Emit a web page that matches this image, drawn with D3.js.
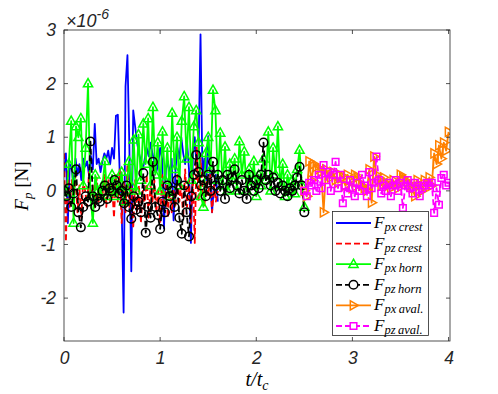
<!DOCTYPE html>
<html>
<head>
<meta charset="utf-8">
<script src="https://cdn.jsdelivr.net/npm/d3@7"></script>
<style>
  body { margin: 0; background: #fff; }
  svg { display: block; }
  .tick text { font-family: "Liberation Sans", Arial, sans-serif; font-style: italic; font-size: 17.5px; fill: #262626; }
  .math { font-family: "Liberation Serif", "Times New Roman", serif; font-style: italic; fill: #000; }
</style>
</head>
<body>
<div id="chart"></div>
<script>
// time sampling of each run (t/t_c)
var crestStart = 0, crestStep = 0.02;
var hornStart = 0, hornStep = 0.025;
var avalStart = 2.5, avalStep = 0.025;

// forces, units of 1e-6 N
var pxCrest = [0.3, 0.7, -0.6, 0.5, 0.4, 0.1, 0.6, 0.3, 0.5, 0.2, 0.6, 0.45, 0.55, 0.3, 0.65, 0.4, 1.25, 0.5, 0.6, 0.35,
  0.55, 0.7, 0.6, 0.75, 0.5, 0.8, 0.6, 1.4, 1.42, 0.3, -0.3, -2.27, 1.95, 2.53, 0.8, -1.5, 1.5, 1.2, 0.9, 0.7,
  0.55, 0.4, 0.6, 0.8, 0.65, 0.9, 0.7, 0.55, 0.35, 0.5, 0.8, 0.6, -0.7, 0.4, 0.55, 0.3, 0.6, -0.55, 0.4, 0.8,
  0.6, 1.0, 0.7, 0.5, 0.9, 0.4, -0.97, 0.6, 1.0, 0.5, 0.8, 2.92, 0.3, 0.6, 0.2, 1.02, 0.3, -0.4, 0.1, 0.3, -0.2];
var pzCrest = [0.7, -0.95, 0.4, -0.3, 0.2, -0.2, 0.3, -0.4, 0.1, -0.5, 0.2, 0.0, -0.3, 0.35, -0.1, 0.1, -0.35, 0.25, -0.2, 0.1,
  -0.1, 0.3, -0.3, 0.2, -0.2, 0.1, -0.5, 0.3, -0.2, 0.4, -0.6, 0.2, -0.4, 0.5, -0.3, 0.1, -0.7, 0.2, -0.4, 0.1,
  -0.6, 0.0, -0.3, 0.3, -0.5, 0.1, -0.2, 0.2, -0.4, 0.0, -0.6, 0.3, -0.3, 0.1, -0.5, 0.2, -0.4, 0.0, -0.3, 0.3,
  -0.2, 0.1, -0.5, 0.4, -0.3, 0.2, -0.6, 0.3, -0.97, 0.82, -0.2, 0.6, 0.1, -0.3, 0.2, -0.1, 0.3, -0.4, 0.1, -0.2, 0.0];
var pxHorn = [0.0, -0.1, 0.5, 1.3, -0.6, 1.2, 1.0, 1.35, 0.1, 0.8, 2.0, -0.1, -0.6, 0.3, 0.0, -0.1, 0.1, 0.55, -0.1, 0.0,
  0.3, -0.1, 0.1, 0.0, 0.35, -0.2, 0.0, 0.55, 0.1, 0.95, 0.0, 1.05, 0.2, 1.25, 0.5, 1.35, 0.1, 1.56, 0.3, 0.9,
  0.0, 1.1, 0.2, 0.8, -0.1, 1.45, 0.4, 1.0, 0.1, 1.3, 1.76, 0.6, 1.56, 0.2, 1.2, 1.5, 0.9, -0.1, -0.3, 0.7,
  1.0, 0.4, 1.88, 1.5, 0.2, 1.08, 0.1, 0.82, 0.0, 0.5, 0.2, 0.6, 0.0, 0.92, 0.3, 0.73, 0.0, 0.4, 0.1, 0.55,
  -0.1, 0.3, 0.1, 0.6, 0.2, 1.1, 0.0, 0.8, 0.3, 1.2, 0.1, 0.5, -0.1, 0.3, 0.0, 0.2, -0.05, 0.4, 0.76, 0.1, -0.3];
var pzHorn = [0.0, -0.1, 0.05, -0.3, -0.05, 0.4, -0.4, -0.68, -0.3, -0.1, -0.2, 0.92, -0.1, -0.3, -0.15, -0.2, 0.0, 0.1, -0.15, 0.05,
  0.0, 0.2, 0.1, -0.05, 0.0, -0.23, 0.1, -0.3, -0.52, -0.1, -0.35, -0.2, -0.4, 0.33, -0.78, -0.3, -0.5, 0.54, -0.3, -0.45,
  -0.71, -0.2, -0.4, 0.1, -0.1, 0.0, -0.3, 0.2, -0.5, -0.8, 0.1, -0.4, -0.85, -0.1, 0.3, 0.67, 0.35, 0.1, 0.2, -0.1,
  0.3, 0.0, 0.54, 0.1, 0.3, 0.0, 0.2, -0.15, 0.3, 0.05, 0.25, 0.4, 0.1, -0.05, 0.2, 0.0, -0.15, 0.3, 0.1, 0.0,
  0.2, 0.05, 0.3, 0.9, 0.2, 0.3, 0.1, 0.25, 0.0, 0.15, -0.05, 0.1, 0.0, -0.1, 0.05, 0.0, 0.1, 0.25, 0.45, 0.1, -0.4];
var pxAval = [0.0, -0.1, 0.55, 0.2, 0.5, 0.45, 0.4, 0.35, -0.4, 0.4, 0.3, 0.25, 0.35, 0.2, 0.15, 0.3, 0.25, 0.1, 0.3, 0.2,
  0.05, 0.3, 0.25, 0.15, 0.1, 0.05, 0.0, 0.4, -0.22, 0.64, 0.3, 0.2, 0.1, 0.25, 0.15, 0.1, 0.05, 0.2, 0.1, 0.05,
  0.3, 0.25, 0.2, 0.15, 0.1, 0.05, -0.1, 0.2, 0.1, 0.0, 0.2, 0.1, 0.25, 0.1, 0.7, 0.5, 0.85, 0.6, 0.9, 0.75, 1.1];
var pzAval = [0.0, -0.1, 0.15, 0.1, 0.2, 0.0, 0.3, 0.05, 0.48, 0.2, 0.35, 0.0, 0.3, 0.54, 0.05, 0.3, -0.23, 0.1, -0.05, 0.2,
  0.05, -0.1, 0.15, 0.0, 0.3, 0.1, -0.1, 0.35, 0.05, 0.15, 0.64, 0.2, -0.05, 0.1, 0.0, 0.15, -0.1, 0.1, 0.2, 0.0,
  0.15, -0.32, 0.1, 0.2, 0.05, -0.05, 0.15, 0.1, -0.1, 0.05, 0.1, 0.15, 0.1, 0.15, -0.41, 0.05, -0.26, 0.24, 0.3, 0.1, 0.15];

var xTicks = [0, 1, 2, 3, 4];
var yTicks = [-2, -1, 0, 1, 2, 3];

var width = 498, height = 394;
var margin = {left: 64, top: 30, right: 48, bottom: 53};

var svg = d3.select("#chart").append("svg").attr("width", width).attr("height", height);

var x = d3.scaleLinear().domain([0, 4.015]).range([margin.left, width - margin.right]);
var y = d3.scaleLinear().domain([-2.8, 3]).range([height - margin.bottom, margin.top]);

var plot = svg.append("g");
plot.append("defs").append("clipPath").attr("id", "clip").append("rect")
  .attr("x", margin.left).attr("y", margin.top)
  .attr("width", x.range()[1] - margin.left).attr("height", y.range()[0] - margin.top);

var series = [
  {vals: pxCrest, t0: crestStart, dt: crestStep, color: "#0000ff", dash: null, marker: null, label: "px\u2009crest"},
  {vals: pzCrest, t0: crestStart, dt: crestStep, color: "#ff0000", dash: "6 3", marker: null, label: "pz\u2009crest"},
  {vals: pxHorn, t0: hornStart, dt: hornStep, color: "#00ff00", dash: null, marker: "up", label: "px\u2009horn"},
  {vals: pzHorn, t0: hornStart, dt: hornStep, color: "#000000", dash: "6 3", marker: "circle", label: "pz\u2009horn"},
  {vals: pxAval, t0: avalStart, dt: avalStep, color: "#ff8000", dash: null, marker: "right", label: "px\u2009aval."},
  {vals: pzAval, t0: avalStart, dt: avalStep, color: "#ff00ff", dash: "6 3", marker: "square", label: "pz\u2009aval."}
];

function markerPath(kind) {
  if (kind === "up") return "M0,-5L4.6,3.2L-4.6,3.2Z";
  if (kind === "right") return "M5,0L-3.2,4.6L-3.2,-4.6Z";
  if (kind === "square") return "M-3.3,-3.3H3.3V3.3H-3.3Z";
  if (kind === "circle") return d3.symbol().type(d3.symbolCircle).size(58)();
  return null;
}

var line = d3.line().x(function (d) { return x(d.t); }).y(function (d) { return y(d.v); });

var layer = plot.append("g").attr("clip-path", "url(#clip)");
series.forEach(function (s) {
  var pts = s.vals.map(function (v, i) { return {t: s.t0 + i * s.dt, v: v}; });
  var g = layer.append("g");
  g.append("path").datum(pts).attr("d", line).attr("fill", "none")
    .attr("stroke", s.color).attr("stroke-width", 1.8)
    .attr("stroke-dasharray", s.dash).attr("stroke-linejoin", "round");
  if (s.marker) {
    g.selectAll("path.m").data(pts).enter().append("path").attr("class", "m")
      .attr("d", markerPath(s.marker))
      .attr("transform", function (d) { return "translate(" + x(d.t) + "," + y(d.v) + ")"; })
      .attr("fill", "none").attr("stroke", s.color).attr("stroke-width", 1.5);
  }
});

// axes box with inward ticks
var axisColor = "#262626";
var x0 = x.range()[0], x1 = x.range()[1], y0 = y.range()[0], y1 = y.range()[1];
var tl = 4;
var ax = svg.append("g").attr("stroke", axisColor).attr("stroke-width", 0.8);
ax.append("rect").attr("x", x0).attr("y", y1).attr("width", x1 - x0).attr("height", y0 - y1).attr("fill", "none");
xTicks.forEach(function (v) {
  ax.append("line").attr("x1", x(v)).attr("x2", x(v)).attr("y1", y0).attr("y2", y0 - tl);
  ax.append("line").attr("x1", x(v)).attr("x2", x(v)).attr("y1", y1).attr("y2", y1 + tl);
});
yTicks.forEach(function (v) {
  ax.append("line").attr("x1", x0).attr("x2", x0 + tl).attr("y1", y(v)).attr("y2", y(v));
  ax.append("line").attr("x1", x1).attr("x2", x1 - tl).attr("y1", y(v)).attr("y2", y(v));
});

// MATLAB style labels use a plain hyphen for negatives
var fmt = function (d) { return String(d); };
var xAxis = svg.append("g").attr("transform", "translate(0," + y0 + ")")
  .call(d3.axisBottom(x).tickValues(xTicks).tickSize(0).tickPadding(11).tickFormat(fmt));
var yAxis = svg.append("g").attr("transform", "translate(" + x0 + ",0)")
  .call(d3.axisLeft(y).tickValues(yTicks).tickSize(0).tickPadding(8).tickFormat(fmt));
xAxis.select(".domain").remove();
yAxis.select(".domain").remove();
xAxis.selectAll(".tick text").attr("font-size", null);
yAxis.selectAll(".tick text").attr("font-size", null);

// exponent
var ex = svg.append("text").attr("x", 66).attr("y", 27)
  .style("font-family", "Liberation Sans, Arial, sans-serif").style("font-style", "italic").style("fill", axisColor);
ex.append("tspan").style("font-size", "18px").text("\u00d710");
ex.append("tspan").style("font-size", "14px").attr("dy", -8).text("-6");

// axis labels
var xl = svg.append("text").attr("class", "math").attr("x", 257).attr("y", 386).attr("text-anchor", "middle").attr("font-size", 20);
xl.append("tspan").text("t/t");
xl.append("tspan").attr("font-size", 14).attr("dy", 4).text("c");

var yl = svg.append("text").attr("class", "math").attr("transform", "translate(28,186) rotate(-90)")
  .attr("text-anchor", "middle").attr("font-size", 19);
yl.append("tspan").text("F");
yl.append("tspan").attr("font-size", 13).attr("dy", 4).text("p");
yl.append("tspan").attr("dy", -4).style("font-style", "normal").text(" [N]");

// legend
var lg = svg.append("g");
lg.append("rect").attr("x", 332.5).attr("y", 211.5).attr("width", 96).attr("height", 124)
  .attr("fill", "#fff").attr("stroke", axisColor).attr("stroke-width", 0.8);
series.forEach(function (s, i) {
  var ly = 223 + i * 20.6;
  lg.append("line").attr("x1", 336).attr("x2", 371).attr("y1", ly).attr("y2", ly)
    .attr("stroke", s.color).attr("stroke-width", 1.8).attr("stroke-dasharray", s.dash);
  if (s.marker) {
    lg.append("path").attr("d", markerPath(s.marker)).attr("transform", "translate(353.5," + ly + ")")
      .attr("fill", s.dash ? "#fff" : "none").attr("stroke", s.color).attr("stroke-width", 1.5);
  }
  var tx = lg.append("text").attr("class", "math").attr("x", 374).attr("y", ly + 5).attr("font-size", 17);
  tx.append("tspan").text("F");
  tx.append("tspan").attr("font-size", 12.5).attr("dy", 3).text(s.label);
});
</script>
</body>
</html>
